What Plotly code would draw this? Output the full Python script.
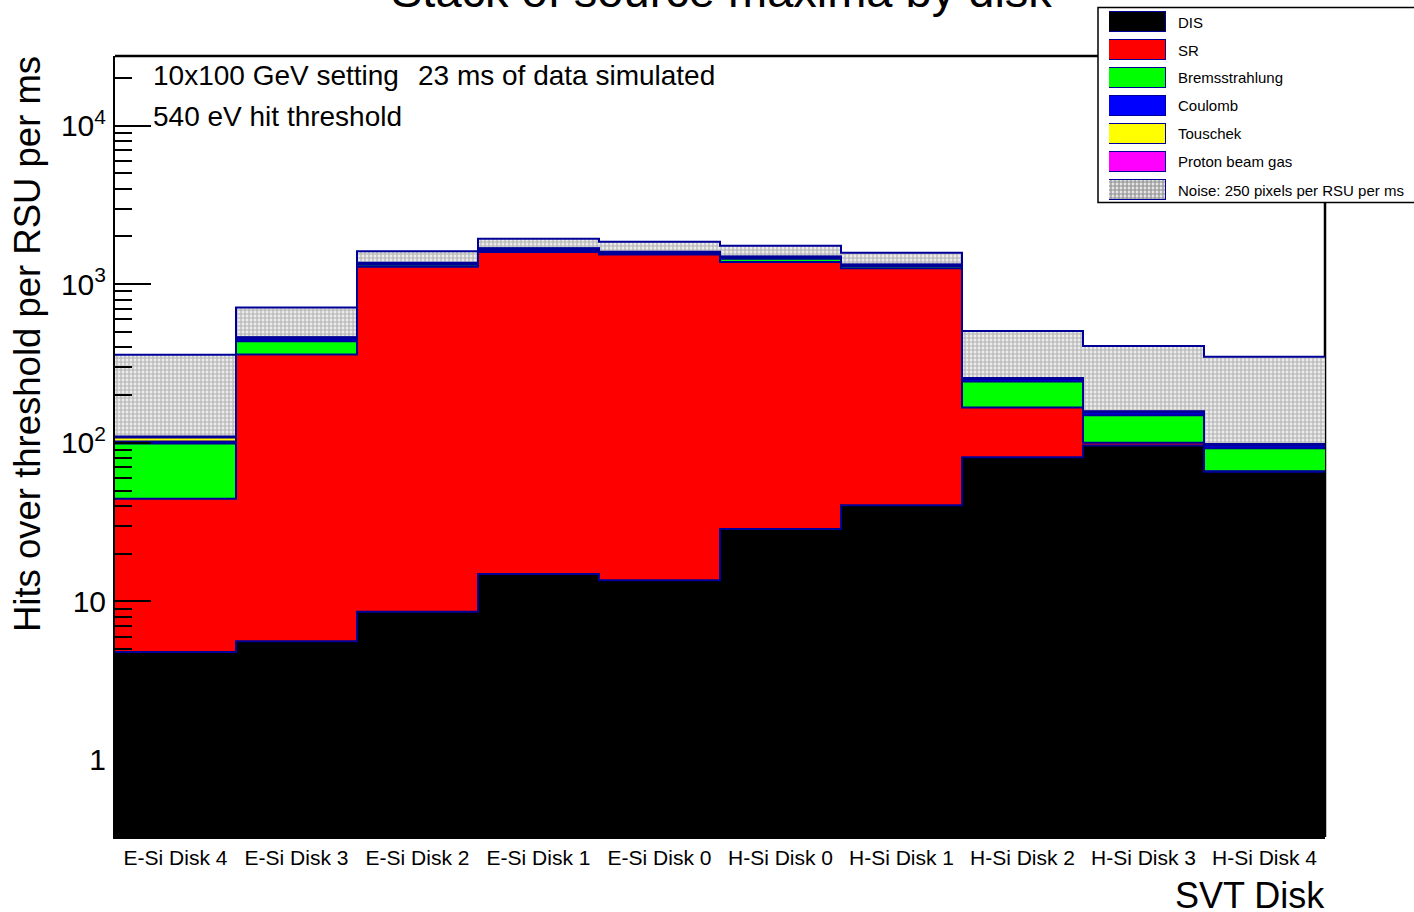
import numpy as np
import plotly.graph_objects as go

# -------------------------------
# Data: stacked source maxima per SVT disk (hits over threshold per RSU per ms)
# -------------------------------
disks = ["E-Si Disk 4", "E-Si Disk 3", "E-Si Disk 2", "E-Si Disk 1", "E-Si Disk 0",
         "H-Si Disk 0", "H-Si Disk 1", "H-Si Disk 2", "H-Si Disk 3", "H-Si Disk 4"]

dis = [4.8, 5.6, 8.6, 14.9, 13.6, 28.6, 40.3, 81, 96, 65.6]
sr = [39.6, 355, 1278, 1579, 1528, 1350, 1218, 86, 4, 0.6]
brems = [54.6, 76, 38, 45, 30, 67, 43, 76, 49, 26]
coulomb = [3, 17, 25, 27, 18, 32, 18, 9, 6, 4]
touschek = [6, 7, 10, 11, 7, 12, 7, 3, 2, 1.5]
proton_gas = [1.5, 3, 5, 6, 4, 7, 4, 1.5, 1, 0.5]
noise = [250, 250, 250, 250, 250, 250, 250, 250, 250, 250]

source_names = ["DIS", "SR", "Bremsstrahlung", "Coulomb", "Touschek", "Proton beam gas",
                "Noise: 250 pixels per RSU per ms"]
source_colors = ["#000000", "#ff0000", "#00ff00", "#0000ff", "#ffff00", "#ff00ff", "#ffffff"]
source_values = [dis, sr, brems, coulomb, touschek, proton_gas, noise]

y_ticks = [1, 10, 100, 1000, 10000]
y_ticktext = ["1", "10", "10<sup>2</sup>", "10<sup>3</sup>", "10<sup>4</sup>"]

# -------------------------------
# Canvas geometry (ROOT-like pad)
# -------------------------------
W, H = 1414, 912
X0, X1 = 115, 1325      # frame left/right in px
Y0, Y1 = 56, 837        # frame top/bottom in px
OUTLINE = "#000099"
FONT = "Liberation Sans"
NOISE_PATTERN = dict(fgcolor="#808080", bgcolor="white", size=4, solidity=0.72)


def fx(px):
    return px / W


def fy(py):
    return 1 - py / H


fig = go.Figure()

# -------------------------------
# Stack: filled bars + step outlines
# -------------------------------
xs = list(range(len(disks)))
edges = [i - 0.5 for i in range(len(disks) + 1)]
cum = np.zeros(len(disks))
tops = []
for name, color, vals in zip(source_names, source_colors, source_values):
    marker = dict(color=color, line=dict(width=0))
    if name.startswith("Noise"):
        marker["pattern"] = dict(shape=".", **NOISE_PATTERN)
    fig.add_trace(go.Bar(x=xs, y=vals, width=1, name=name, marker=marker,
                         showlegend=False))
    cum = cum + np.array(vals)
    tops.append(cum.copy())

for top in tops:
    fig.add_trace(go.Scatter(
        x=edges, y=list(top) + [top[-1]], mode="lines", line_shape="hv",
        line=dict(color=OUTLINE, width=2), showlegend=False, hoverinfo="skip"))

# -------------------------------
# Legend swatches (own small axis so the noise pattern shows)
# -------------------------------
fig.add_trace(go.Bar(
    x=[1] * len(source_names), y=list(range(len(source_names))), orientation="h",
    width=20 / 28, xaxis="x2", yaxis="y2", showlegend=False, hoverinfo="skip",
    marker=dict(color=source_colors, line=dict(color=OUTLINE, width=1.5),
                pattern=dict(shape=[""] * 6 + ["."], **NOISE_PATTERN))))

annotations = []
for i, name in enumerate(source_names):
    annotations.append(dict(x=fx(1176), y=fy(22 + 28 * i), text=name, xanchor="left",
                            font=dict(size=15, family=FONT, color="black")))

# -------------------------------
# Texts
# -------------------------------
annotations += [
    dict(x=fx(721), y=fy(-9), text="Stack of source maxima by disk", xanchor="center",
         font=dict(size=47, family=FONT, color="black")),
    dict(x=fx(151), y=fy(75), text="10x100 GeV setting", xanchor="left",
         font=dict(size=28, family=FONT, color="black")),
    dict(x=fx(416), y=fy(75), text="23 ms of data simulated", xanchor="left",
         font=dict(size=28, family=FONT, color="black")),
    dict(x=fx(151), y=fy(116), text="540 eV hit threshold", xanchor="left",
         font=dict(size=28, family=FONT, color="black")),
    dict(x=fx(27), y=fy(54), text="Hits over threshold per RSU per ms", textangle=-90,
         xanchor="center", yanchor="top", font=dict(size=36.5, family=FONT, color="black")),
    dict(x=fx(1327), y=fy(895), text="SVT Disk", xanchor="right",
         font=dict(size=36, family=FONT, color="black")),
]
for a in annotations:
    a.setdefault("xref", "paper")
    a.setdefault("yref", "paper")
    a.setdefault("showarrow", False)
    a.setdefault("yanchor", "middle")

shapes = [
    # legend box
    dict(type="rect", xref="paper", yref="paper", x0=fx(1098), x1=fx(1420),
         y0=fy(7.5), y1=fy(202.5), line=dict(color="black", width=1.5), layer="above"),
    # frame top and right
    dict(type="line", xref="paper", yref="paper", x0=fx(X0), x1=fx(1098),
         y0=fy(Y0), y1=fy(Y0), line=dict(color="black", width=2.5), layer="above"),
    dict(type="line", xref="paper", yref="paper", x0=fx(X1), x1=fx(X1),
         y0=fy(203), y1=fy(Y1), line=dict(color="black", width=2.5), layer="below"),
]

minor_vals = [m * 10.0 ** e for e in range(-1, 5) for m in range(2, 10)]

fig.update_layout(
    width=W, height=H,
    margin=dict(l=0, r=0, t=0, b=0),
    template="plotly_white",
    paper_bgcolor="white", plot_bgcolor="rgba(0,0,0,0)",
    barmode="stack", bargap=0,
    font=dict(family=FONT, color="black"),
    showlegend=False,
    annotations=annotations,
    shapes=shapes,
    xaxis=dict(domain=[fx(X0), fx(X1)], range=[-0.5, len(disks) - 0.5],
               tickmode="array", tickvals=xs, ticktext=disks, ticks="",
               tickfont=dict(size=21, family=FONT, color="black"), ticklabelstandoff=1,
               showline=True, linecolor="black", linewidth=2, showgrid=False,
               zeroline=False, automargin=False),
    yaxis=dict(domain=[fy(Y1), fy(Y0)], type="log", range=[-0.486, 4.439],
               tickmode="array", tickvals=y_ticks, ticktext=y_ticktext,
               ticks="inside", ticklen=36, tickwidth=1.5, tickcolor="black",
               minor=dict(tickmode="array", tickvals=minor_vals, ticks="inside",
                          ticklen=17, tickwidth=1.5, tickcolor="black", showgrid=False),
               tickfont=dict(size=30, family=FONT, color="black"), ticklabelstandoff=1,
               showline=True, linecolor="black", linewidth=2, showgrid=False,
               zeroline=False, automargin=False),
    xaxis2=dict(domain=[fx(1109), fx(1166)], range=[0, 1], visible=False,
                anchor="y2", fixedrange=True),
    yaxis2=dict(domain=[fy(204), fy(8)], range=[len(source_names) - 0.5, -0.5],
                visible=False, anchor="x2", fixedrange=True),
)

# drop the browser's default body margin so the canvas sits at the page origin
fig.write_html("out.html", config={"displayModeBar": False},
               post_script="document.body.style.margin = '0px';")
